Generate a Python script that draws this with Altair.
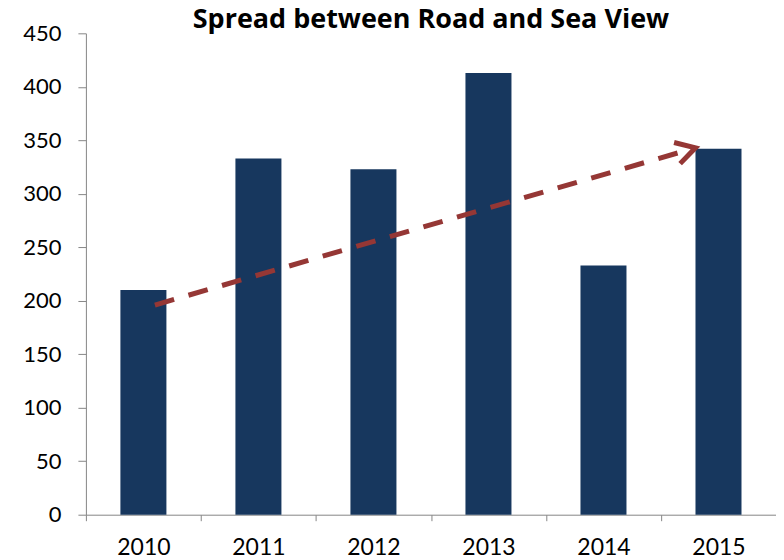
import altair as alt
import pandas as pd

years = ["2010", "2011", "2012", "2013", "2014", "2015"]
spread = [210, 333, 323, 413, 233, 342]

arrow_from_year = ["2010"]
arrow_to_year = ["2015"]
arrow_from_value = [196]
arrow_to_value = [343]

y_ticks = [0, 50, 100, 150, 200, 250, 300, 350, 400, 450]

bars_df = pd.DataFrame({"year": years, "spread": spread})
arrow_df = pd.DataFrame({
    "x1": arrow_from_year, "x2": arrow_to_year,
    "y1": arrow_from_value, "y2": arrow_to_value,
})

FONT = "Lato"
TITLE_FONT = "Open Sans"
BAR = "#17375E"
ARROW = "#953735"
AXIS = "#868686"

xscale = alt.Scale(domain=years, paddingInner=0, paddingOuter=0)
yscale = alt.Scale(domain=[0, 450], nice=False, zero=True)

x_axis = alt.Axis(title=None, labelAngle=0, tickBand="extent",
                  tickSize=6, labelPadding=16, domainColor=AXIS,
                  tickColor=AXIS, labelFont=FONT, labelFontSize=23,
                  labelColor="black")
y_axis = alt.Axis(title=None, values=y_ticks, grid=False,
                  tickSize=8, labelPadding=17, domainColor=AXIS,
                  tickColor=AXIS, labelFont=FONT, labelFontSize=22,
                  labelColor="black")

bars = alt.Chart(bars_df).mark_bar(
    color=BAR, width=alt.RelativeBandSize(0.4)
).encode(
    x=alt.X("year:N", scale=xscale, sort=years, axis=x_axis),
    y=alt.Y("spread:Q", scale=yscale, axis=y_axis),
)

line = alt.Chart(arrow_df).mark_rule(
    color=ARROW, strokeWidth=5, strokeDash=[20, 15], strokeCap="butt"
).encode(
    x=alt.X("x1:N", bandPosition=0.6, scale=xscale, axis=x_axis),
    x2=alt.X2("x2", bandPosition=0.3),
    y=alt.Y("y1:Q", scale=yscale, axis=y_axis),
    y2=alt.Y2("y2"),
)

head = alt.Chart(arrow_df).mark_point(
    shape="M -0.87 -0.5 L 0 0 L -0.87 0.5", filled=False, strokeWidth=5,
    size=1936, angle=344, color=ARROW, opacity=1, strokeJoin="miter",
).encode(
    x=alt.X("x2:N", bandPosition=0.3, scale=xscale, axis=x_axis),
    y=alt.Y("y2:Q", scale=yscale, axis=y_axis),
)

chart = alt.layer(bars, line, head).properties(
    width=691,
    height=482,
    title=alt.TitleParams("Spread between Road and Sea View", font=TITLE_FONT,
                          fontSize=27, fontWeight="bold", color="black",
                          anchor="middle", frame="group", offset=-12),
    autosize=alt.AutoSizeParams(type="none"),
    padding={"left": 78, "top": 25, "right": 0, "bottom": 45},
).configure_view(stroke=None)

chart.save("out.html", embed_options={"renderer": "svg", "actions": False})
